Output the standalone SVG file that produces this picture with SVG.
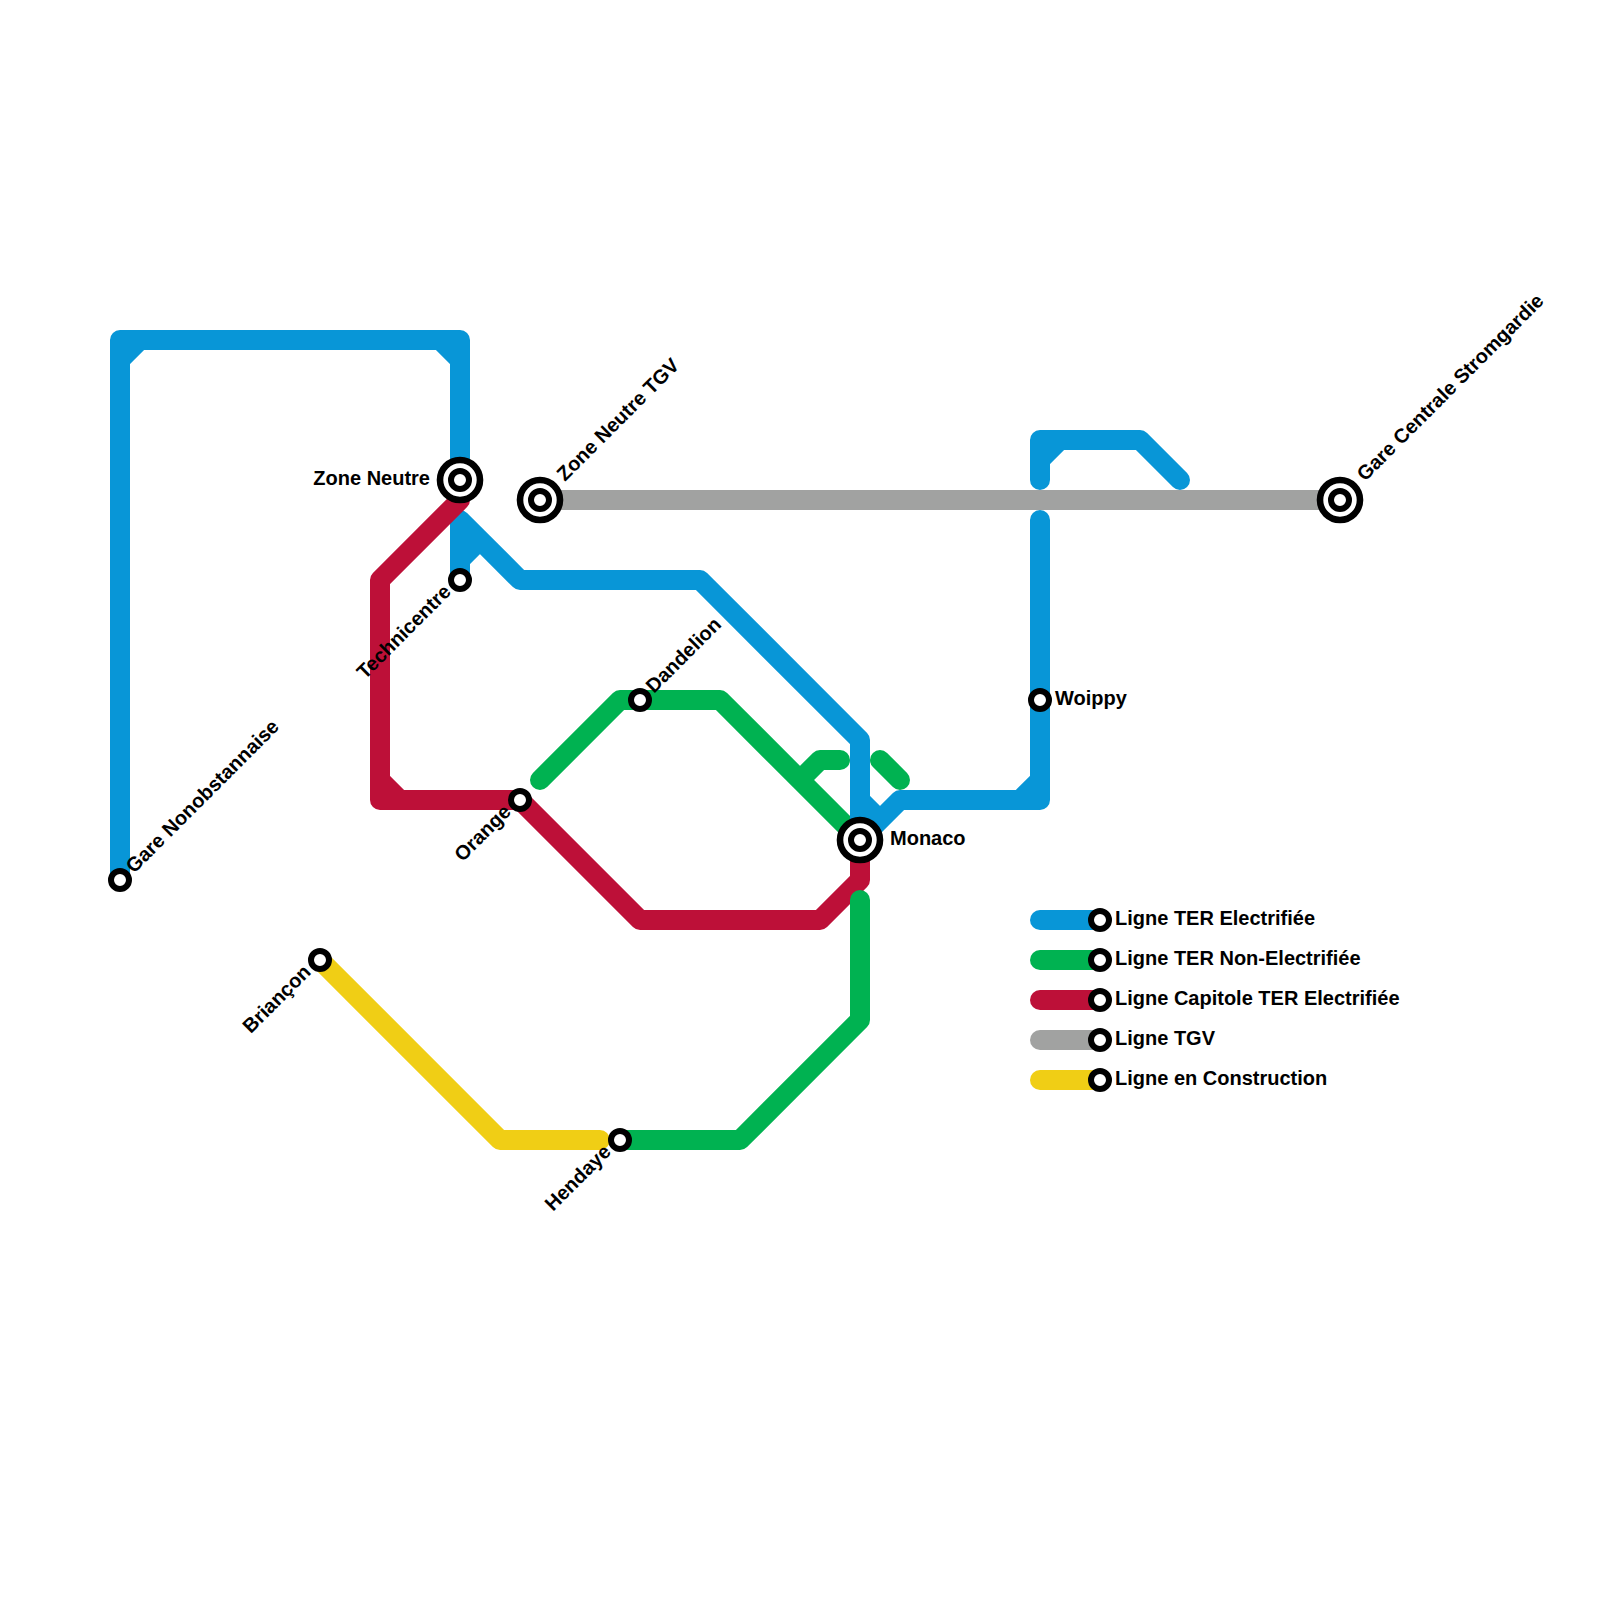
<svg xmlns="http://www.w3.org/2000/svg" width="1600" height="1600" viewBox="0 0 1600 1600">
<style>
.l{fill:none;stroke-width:20;stroke-linecap:round;stroke-linejoin:round}
.b{stroke:#0896d7}.g{stroke:#00b251}.r{stroke:#bd1038}.y{stroke:#f0ce15}.a{stroke:#a1a2a1}
.s{fill:#fff;stroke:#000;stroke-width:6}
.o{fill:#fff;stroke:#000;stroke-width:6.6}
.t{font:bold 20px "Liberation Sans",Arial,sans-serif;fill:#000}
</style>
<rect width="1600" height="1600" fill="#fff"/>
<g id="connectors">
<path class="l a" d="M540 500H1340" stroke-linecap="butt"/>
<path class="l y" d="M320 960L500 1140H600"/>
<path class="l g" d="M540 780L620 700H720L860 840M800 780L820 760H840M880 760L900 780"/>
<path class="l b" d="M120 880V340H460V480M120 360L140 340M440 340L460 360M460 580V520L520 580H700L860 740V840M460 560L480 540M860 800L880 820M860 840L900 800H1040V520M1040 780L1020 800M1040 480V440H1140L1180 480M1040 460L1060 440"/>
<path class="l r" d="M460 500L380 580V800H520L640 920H820L860 880V840M380 780L400 800"/>
<path class="l g" d="M620 1140H740L860 1020V900"/>
<path class="l b" d="M1040 920H1100"/>
<path class="l g" d="M1040 960H1100"/>
<path class="l r" d="M1040 1000H1100"/>
<path class="l a" d="M1040 1040H1100"/>
<path class="l y" d="M1040 1080H1100"/>
</g>
<g id="n-zone-neutre"><circle class="o" cx="460" cy="480" r="20"/><circle class="s" cx="460" cy="480" r="9"/><text class="t" x="430" y="485" text-anchor="end">Zone Neutre</text></g>
<g id="n-zone-neutre-tgv"><circle class="o" cx="540" cy="500" r="20"/><circle class="s" cx="540" cy="500" r="9"/><text class="t" transform="translate(565 482) rotate(-45)">Zone Neutre TGV</text></g>
<g id="n-gare-centrale"><circle class="o" cx="1340" cy="500" r="20"/><circle class="s" cx="1340" cy="500" r="9"/><text class="t" transform="translate(1365 482) rotate(-45)">Gare Centrale Stromgardie</text></g>
<g id="n-monaco"><circle class="o" cx="860" cy="840" r="20"/><circle class="s" cx="860" cy="840" r="9"/><text class="t" x="890" y="845">Monaco</text></g>
<g id="n-technicentre"><circle class="s" cx="460" cy="580" r="9"/><text class="t" text-anchor="end" transform="translate(452 593) rotate(-45)">Technicentre</text></g>
<g id="n-gare-nonobstannaise"><circle class="s" cx="120" cy="880" r="9"/><text class="t" transform="translate(134 874) rotate(-45)">Gare Nonobstannaise</text></g>
<g id="n-dandelion"><circle class="s" cx="640" cy="700" r="9"/><text class="t" transform="translate(654 694) rotate(-45)">Dandelion</text></g>
<g id="n-orange"><circle class="s" cx="520" cy="800" r="9"/><text class="t" text-anchor="end" transform="translate(512 813) rotate(-45)">Orange</text></g>
<g id="n-woippy"><circle class="s" cx="1040" cy="700" r="9"/><text class="t" x="1055" y="705">Woippy</text></g>
<g id="n-briancon"><circle class="s" cx="320" cy="960" r="9"/><text class="t" text-anchor="end" transform="translate(312 973) rotate(-45)">Briançon</text></g>
<g id="n-hendaye"><circle class="s" cx="620" cy="1140" r="9"/><text class="t" text-anchor="end" transform="translate(612 1153) rotate(-45)">Hendaye</text></g>
<g id="legend">
<g id="k1"><circle class="s" cx="1100" cy="920" r="9"/><text class="t" x="1115" y="925">Ligne TER Electrifiée</text></g>
<g id="k2"><circle class="s" cx="1100" cy="960" r="9"/><text class="t" x="1115" y="965">Ligne TER Non-Electrifiée</text></g>
<g id="k3"><circle class="s" cx="1100" cy="1000" r="9"/><text class="t" x="1115" y="1005">Ligne Capitole TER Electrifiée</text></g>
<g id="k4"><circle class="s" cx="1100" cy="1040" r="9"/><text class="t" x="1115" y="1045">Ligne TGV</text></g>
<g id="k5"><circle class="s" cx="1100" cy="1080" r="9"/><text class="t" x="1115" y="1085">Ligne en Construction</text></g>
</g>
</svg>
